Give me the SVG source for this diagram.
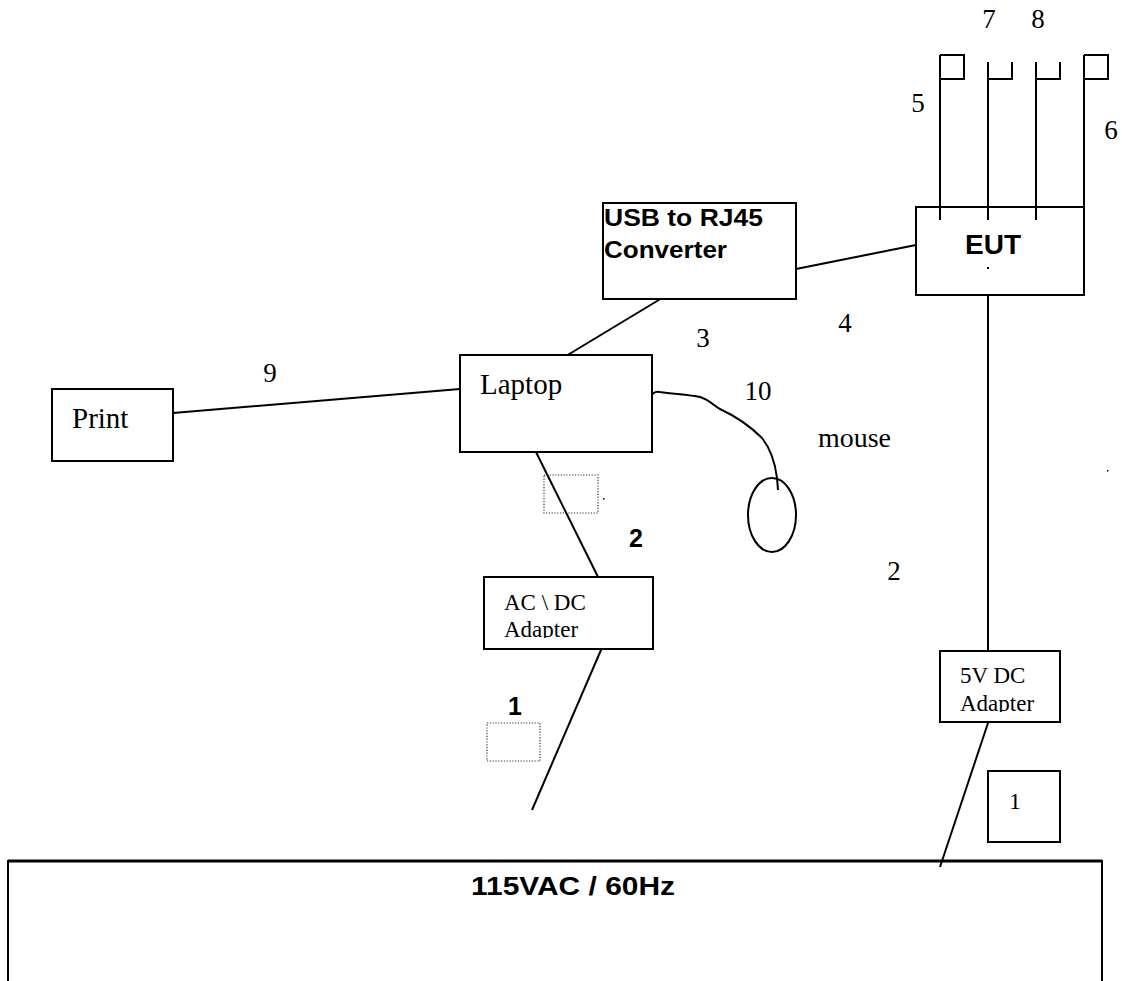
<svg xmlns="http://www.w3.org/2000/svg" width="1122" height="981" viewBox="0 0 1122 981">
<style>
.box{fill:#fff;stroke:#000;stroke-width:2}
.ln{fill:none;stroke:#000;stroke-width:2}
.dot{fill:none;stroke:#333;stroke-width:1.2;stroke-dasharray:1.2 1.6}
.s{font-family:"Liberation Serif","Times New Roman",serif;fill:#000}
.b{font-family:"Liberation Sans",Arial,sans-serif;font-weight:bold;fill:#000}
</style>
<defs>
<clipPath id="clipAC"><rect x="484" y="577" width="169" height="61"/></clipPath>
<clipPath id="clip5V"><rect x="940" y="651" width="120" height="61"/></clipPath>
</defs>
<rect width="1122" height="981" fill="#fff"/>

<g id="connectors">
<path class="ln" d="M940 55V220 M988 62V220 M1036 62V220 M1084 55V207"/>
<path class="ln" d="M940 55H964V79H940 M988 79H1012V62 M1036 79H1060V62 M1084 55H1108V79H1084"/>
<path class="ln" d="M796 269L916 245"/>
<path class="ln" d="M677 289L556 362"/>
<path class="ln" d="M173 413L460 389"/>
<path class="ln" d="M649 398C652 393 655 391 660 392C675 394 690 395 700 397C710 400 714 406 720 409C735 416 750 426 762 438C770 448 775 462 777 478L778 490"/>
<path class="ln" d="M532 444L604 589"/>
<path class="ln" d="M604 643L532 810"/>
<path class="ln" d="M988 290V651"/>
<path class="ln" d="M988 723L940 867"/>
</g>

<g id="eut">
<rect class="box" x="916" y="207" width="168" height="88" fill="none"/>
<path class="ln" d="M940 207V220 M988 207V220 M1036 207V220"/>
<text class="b" x="993" y="254" font-size="28" text-anchor="middle">EUT</text>
<rect x="987" y="267" width="2" height="2" fill="#000"/>
</g>

<g id="ports">
<text class="s" x="989" y="28" font-size="27" text-anchor="middle">7</text>
<text class="s" x="1038" y="28" font-size="27" text-anchor="middle">8</text>
<text class="s" x="918" y="112" font-size="27" text-anchor="middle">5</text>
<text class="s" x="1111" y="139" font-size="27" text-anchor="middle">6</text>
</g>

<g id="converter">
<rect class="box" x="603" y="203" width="193" height="96"/>
<text class="b" x="604" y="226" font-size="24" textLength="159" lengthAdjust="spacingAndGlyphs">USB to RJ45</text>
<text class="b" x="604" y="258" font-size="24" textLength="123" lengthAdjust="spacingAndGlyphs">Converter</text>
</g>

<g id="laptop">
<rect class="box" x="460" y="355" width="192" height="97"/>
<text class="s" x="480" y="394" font-size="29">Laptop</text>
</g>

<g id="print">
<rect class="box" x="52" y="389" width="121" height="72"/>
<text class="s" x="72" y="428" font-size="29">Print</text>
</g>

<g id="mouse">
<ellipse class="ln" cx="772" cy="515" rx="24" ry="37"/>
<text class="s" x="891" y="447" font-size="28" text-anchor="end">mouse</text>
</g>

<g id="acdc-adapter">
<rect class="box" x="484" y="577" width="169" height="72"/>
<g clip-path="url(#clipAC)">
<text class="s" x="504" y="610" font-size="23">AC \ DC</text>
<text class="s" x="504" y="637" font-size="23">Adapter</text>
</g>
</g>

<g id="dc-adapter">
<rect class="box" x="940" y="651" width="120" height="71"/>
<g clip-path="url(#clip5V)">
<text class="s" x="960" y="683" font-size="23">5V DC</text>
<text class="s" x="960" y="711" font-size="23">Adapter</text>
</g>
</g>

<g id="box-1">
<rect class="box" x="988" y="771" width="72" height="71"/>
<text class="s" x="1015" y="809" font-size="24" text-anchor="middle">1</text>
</g>

<g id="mains">
<path class="ln" d="M8 981V861H1102V981"/>
<path d="M8 861H1102" stroke="#000" stroke-width="3"/>
<text class="b" x="573" y="895" font-size="26" text-anchor="middle" textLength="204" lengthAdjust="spacingAndGlyphs">115VAC / 60Hz</text>
</g>

<g id="labels">
<text class="s" x="270" y="382" font-size="27" text-anchor="middle">9</text>
<text class="s" x="703" y="347" font-size="27" text-anchor="middle">3</text>
<text class="s" x="845" y="332" font-size="27" text-anchor="middle">4</text>
<text class="s" x="758" y="400" font-size="27" text-anchor="middle">10</text>
<text class="s" x="894" y="580" font-size="27" text-anchor="middle">2</text>
<text class="b" x="636" y="547" font-size="25" text-anchor="middle">2</text>
<text class="b" x="515" y="715" font-size="25" text-anchor="middle">1</text>
<rect class="dot" x="544" y="475" width="54" height="38"/>
<rect class="dot" x="487" y="723" width="53" height="38"/>
<rect x="603" y="498" width="1.5" height="1.5" fill="#000"/>
<rect x="1107" y="470" width="1.5" height="1.5" fill="#000"/>
</g>
</svg>
